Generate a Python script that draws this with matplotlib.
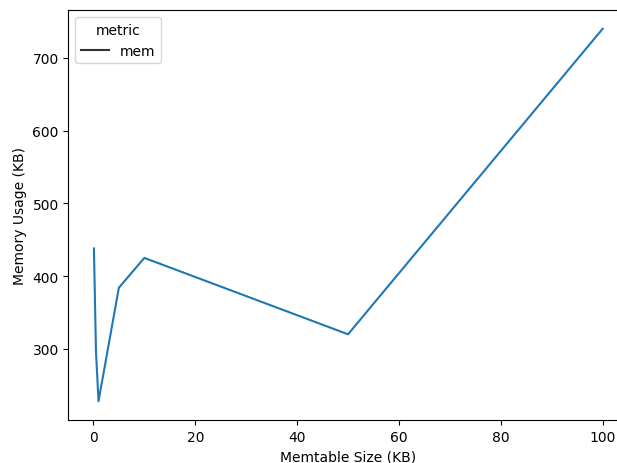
import matplotlib; matplotlib.use("Agg")
import matplotlib.pyplot as plt
import pandas as pd
import seaborn as sns

memtable_kb = [0.1, 0.5, 1, 5, 10, 50, 100]
mem_kb = [438, 297, 228, 384, 425, 320, 740]
metric = ["mem"] * len(memtable_kb)

df = pd.DataFrame({"memtable": memtable_kb, "value": mem_kb, "metric": metric})

fig, ax = plt.subplots(figsize=(6.17, 4.64), dpi=100)
sns.lineplot(data=df, x="memtable", y="value", style="metric", ax=ax)
# style-only legend: neutral dark handle
leg = ax.get_legend()
for h in leg.legend_handles:
    h.set_color(".2")
ax.set_xlabel("Memtable Size (KB)")
ax.set_ylabel("Memory Usage (KB)")
# reference is cropped on the right: right spine falls just outside the image
fig.subplots_adjust(left=0.111, right=1.018, top=0.976, bottom=0.093)
fig.savefig("out.png", dpi=100)
